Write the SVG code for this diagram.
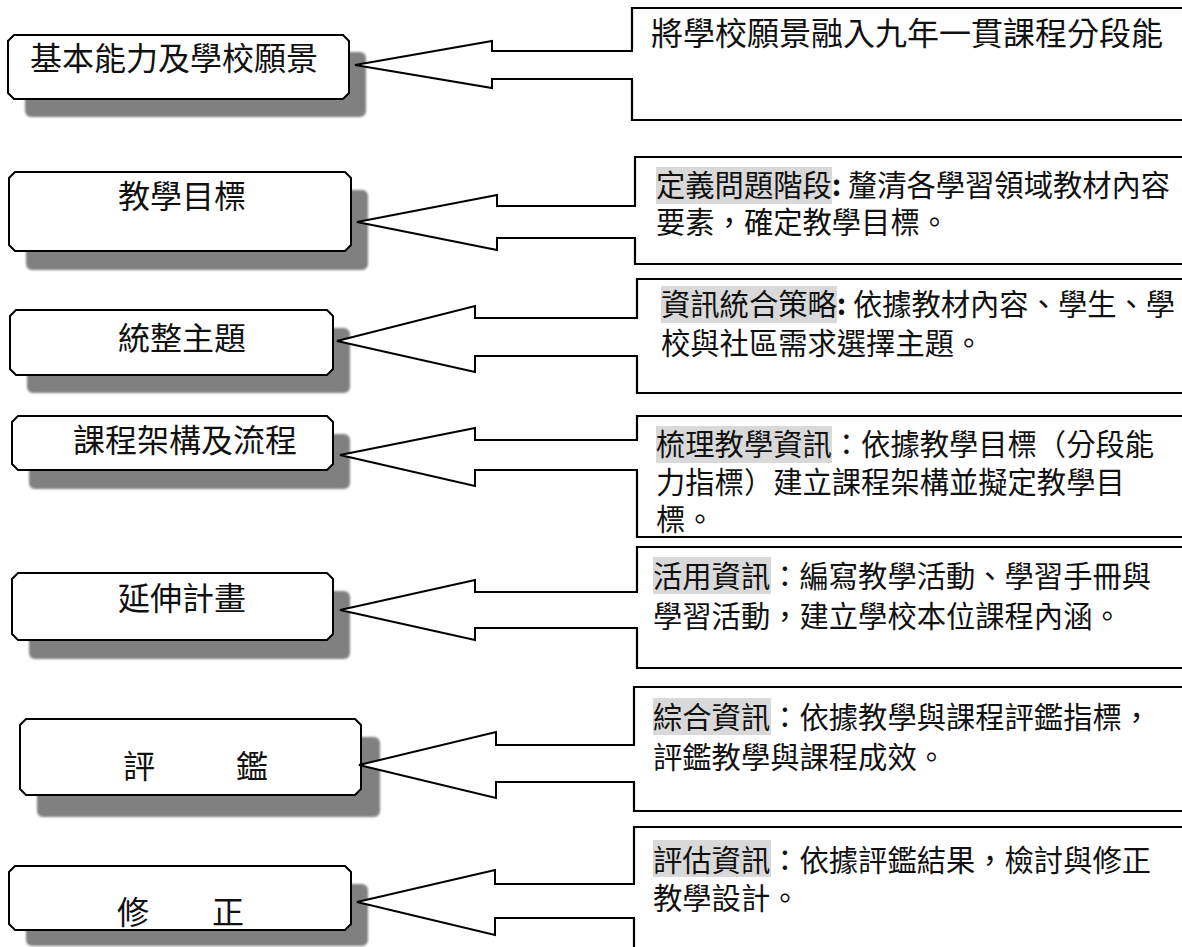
<svg xmlns="http://www.w3.org/2000/svg" width="1182" height="947" viewBox="0 0 1182 947">
<defs>
<filter id="soft" x="-5%" y="-10%" width="110%" height="120%"><feGaussianBlur stdDeviation="1.2"/></filter>
</defs>
<style>
.shadow{fill:#808080;filter:url(#soft)}
.lbox{fill:#fff;stroke:#000;stroke-width:2}
.rbox{fill:none;stroke:#000;stroke-width:2.2}
.arrow{fill:#fff;stroke:#000;stroke-width:2;stroke-linejoin:miter}
.lt{font-family:"Noto Sans CJK TC","Noto Sans CJK SC",sans-serif;font-size:32px;fill:#111}
.rt{font-family:"Noto Sans CJK TC","Noto Sans CJK SC",sans-serif;font-size:29.3px;fill:#111}
.rt1{font-family:"Noto Sans CJK TC","Noto Sans CJK SC",sans-serif;font-size:32px;fill:#111}
.hl{fill:#d9d9d9}
</style>
<rect width="1182" height="947" fill="#fff"/>

<!-- left nodes -->
<g id="node-l1">
<rect class="shadow" x="25" y="52" width="341" height="65" rx="6"/>
<path class="lbox" d="M14,35 H343 L349,41 V93 L343,99 H14 L8,93 V41 Z"/>
<text class="lt" x="174" y="70" text-anchor="middle">基本能力及學校願景</text>
</g>
<g id="node-l2">
<rect class="shadow" x="26" y="190" width="342" height="80" rx="6"/>
<path class="lbox" d="M15,172 H345 L351,178 V245 L345,251 H15 L9,245 V178 Z"/>
<text class="lt" x="182" y="208" text-anchor="middle">教學目標</text>
</g>
<g id="node-l3">
<rect class="shadow" x="27" y="328" width="323" height="65" rx="6"/>
<path class="lbox" d="M16,310 H327 L333,316 V369 L327,375 H16 L10,369 V316 Z"/>
<text class="lt" x="182" y="350" text-anchor="middle">統整主題</text>
</g>
<g id="node-l4">
<rect class="shadow" x="29" y="434" width="321" height="55" rx="6"/>
<path class="lbox" d="M18,416 H327 L333,422 V464 L327,470 H18 L12,464 V422 Z"/>
<text class="lt" x="185" y="452" text-anchor="middle">課程架構及流程</text>
</g>
<g id="node-l5">
<rect class="shadow" x="29" y="591" width="321" height="68" rx="6"/>
<path class="lbox" d="M18,573 H327 L333,579 V634 L327,640 H18 L12,634 V579 Z"/>
<text class="lt" x="182" y="610" text-anchor="middle">延伸計畫</text>
</g>
<g id="node-l6">
<rect class="shadow" x="37" y="737" width="343" height="80" rx="6"/>
<path class="lbox" d="M26,719 H355 L361,725 V789 L355,795 H26 L20,789 V725 Z"/>
<text class="lt" x="123" y="778">評</text>
<text class="lt" x="236" y="778">鑑</text>
</g>
<g id="node-l7">
<rect class="shadow" x="26" y="884" width="342" height="62" rx="6"/>
<path class="lbox" d="M15,866 H345 L351,872 V924 L345,930 H15 L9,924 V872 Z"/>
<text class="lt" x="117" y="924">修</text>
<text class="lt" x="212" y="924">正</text>
</g>

<!-- right nodes -->
<g id="node-r1">
<path class="rbox" d="M632,51 V8 H1192 M1192,120 H632 V79"/>
<text class="rt1" x="651" y="45">將學校願景融入九年一貫課程分段能</text>
</g>
<g id="node-r2">
<path class="rbox" d="M635,206 V157 H1192 M1192,264 H635 V238"/>
<rect class="hl" x="656" y="167" width="176" height="37"/>
<text class="rt" x="656" y="196">定義問題階段<tspan font-weight="bold">:</tspan> 釐清各學習領域教材內容</text>
<text class="rt" x="656" y="233">要素，確定教學目標。</text>
</g>
<g id="node-r3">
<path class="rbox" d="M637,318 V279 H1192 M1192,393 H637 V356"/>
<rect class="hl" x="661" y="286" width="176" height="37"/>
<text class="rt" x="661" y="315">資訊統合策略<tspan font-weight="bold">:</tspan> 依據教材內容、學生、學</text>
<text class="rt" x="661" y="354">校與社區需求選擇主題。</text>
</g>
<g id="node-r4">
<path class="rbox" d="M637,440 V416 H1192 M1192,537 H637 V470"/>
<rect class="hl" x="656" y="426" width="176" height="37"/>
<text class="rt" x="656" y="455">梳理教學資訊：依據教學目標（分段能</text>
<text class="rt" x="656" y="493">力指標）建立課程架構並擬定教學目</text>
<text class="rt" x="656" y="530">標。</text>
</g>
<g id="node-r5">
<path class="rbox" d="M637,592 V547 H1192 M1192,668 H637 V628"/>
<rect class="hl" x="653" y="557" width="118" height="37"/>
<text class="rt" x="653" y="587">活用資訊：編寫教學活動、學習手冊與</text>
<text class="rt" x="653" y="627">學習活動，建立學校本位課程內涵。</text>
</g>
<g id="node-r6">
<path class="rbox" d="M634,745 V687 H1192 M1192,811 H634 V782"/>
<rect class="hl" x="653" y="698" width="118" height="37"/>
<text class="rt" x="653" y="728">綜合資訊：依據教學與課程評鑑指標，</text>
<text class="rt" x="653" y="768">評鑑教學與課程成效。</text>
</g>
<g id="node-r7">
<path class="rbox" d="M634,884 V827 H1192 M1192,960 H634 V918"/>
<rect class="hl" x="653" y="840" width="118" height="37"/>
<text class="rt" x="653" y="871">評估資訊：依據評鑑結果，檢討與修正</text>
<text class="rt" x="653" y="909">教學設計。</text>
</g>

<!-- connectors -->
<g id="connectors">
<path class="arrow" d="M633,51 H492 V41 L355,65 L492,88 V79 H633"/>
<path class="arrow" d="M636,206 H497 V195 L357,222 L497,250 V238 H636"/>
<path class="arrow" d="M638,318 H475 V306 L337,341 L475,372 V356 H638"/>
<path class="arrow" d="M638,440 H475 V428 L340,455 L475,486 V470 H638"/>
<path class="arrow" d="M638,592 H475 V580 L340,610 L475,640 V628 H638"/>
<path class="arrow" d="M635,745 H496 V732 L359,765 L496,798 V782 H635"/>
<path class="arrow" d="M635,884 H495 V870 L357,902 L495,935 V918 H635"/>
</g>
</svg>
